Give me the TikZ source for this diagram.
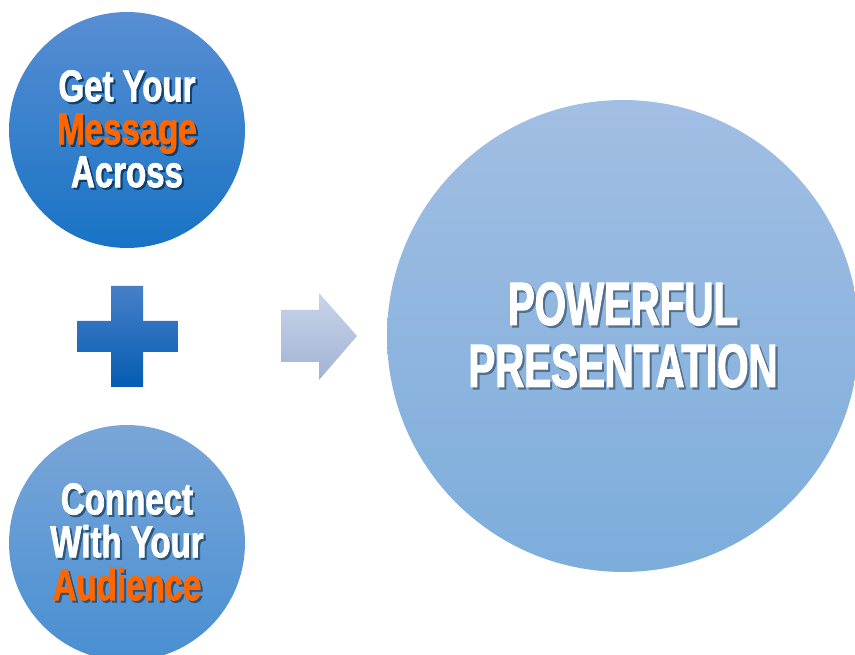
\documentclass[tikz,border=0pt]{standalone}
\usepackage{fontspec}
\usepackage{tikz}
\newfontfamily\circfont[FakeStretch=0.74,FakeBold=1.6]{Liberation Sans}
\newfontfamily\bigcircfont[FakeStretch=0.66,FakeBold=1.8]{Liberation Sans}
\definecolor{msgtop}{RGB}{88,142,211}
\definecolor{msgbot}{RGB}{24,115,196}
\definecolor{audtop}{RGB}{122,166,216}
\definecolor{audbot}{RGB}{72,143,210}
\definecolor{plustop}{RGB}{70,128,200}
\definecolor{plusbot}{RGB}{5,92,178}
\definecolor{arrowtop}{RGB}{200,212,234}
\definecolor{arrowbot}{RGB}{162,178,212}
\definecolor{powtop}{RGB}{162,190,227}
\definecolor{powbot}{RGB}{124,173,219}
\definecolor{orangetext}{RGB}{255,102,0}
\newcommand{\shd}[2][white]{\makebox[0pt][l]{\hspace{1.2pt}\raisebox{-1.2pt}{\color{txtshadow}#2}}\textcolor{#1}{#2}}
\tikzstyle{smallcircle} = [circle, inner sep=0pt, minimum size=4.72cm, align=center]
\tikzstyle{messagecircle} = [smallcircle, top color=msgtop, bottom color=msgbot, font=\circfont\bfseries\fontsize{25.4}{24.4}\selectfont\colorlet{txtshadow}{msgbot!55!black}]
\tikzstyle{audiencecircle} = [smallcircle, top color=audtop, bottom color=audbot, font=\circfont\bfseries\fontsize{25.4}{24.4}\selectfont\colorlet{txtshadow}{audbot!60!black}]
\tikzstyle{powercircle} = [circle, inner sep=0pt, minimum size=9.44cm, align=center, top color=powtop, bottom color=powbot, font=\bigcircfont\bfseries\fontsize{34.7}{35.3}\selectfont\colorlet{txtshadow}{powbot!65!black}]

\begin{document}
\begin{tikzpicture}[x=0.02cm,y=0.02cm]
	\useasboundingbox (0,0) rectangle (855,655);
	\node[messagecircle] (message) at (127,525) {\shd{Get Your}\\ \shd[orangetext]{Message}\\ \shd{Across}};
	\node[audiencecircle] (audience) at (127,112) {\shd{Connect}\\ \shd{With Your}\\ \shd[orangetext]{Audience}};
	\node[powercircle] (power) at (623,319) {\shd{POWERFUL}\\ \shd{PRESENTATION}};
	% plus sign
	\shade[top color=plustop, bottom color=plusbot] (111,268) -- (143,268) -- (143,303) -- (178,303) -- (178,334) -- (143,334) -- (143,369) -- (111,369) -- (111,334) -- (77,334) -- (77,303) -- (111,303) -- cycle;
	% arrow
	\shade[top color=arrowtop, bottom color=arrowbot] (281,293) -- (319,293) -- (319,275) -- (357,319) -- (319,362) -- (319,345) -- (281,345) -- cycle;
\end{tikzpicture}
\end{document}
